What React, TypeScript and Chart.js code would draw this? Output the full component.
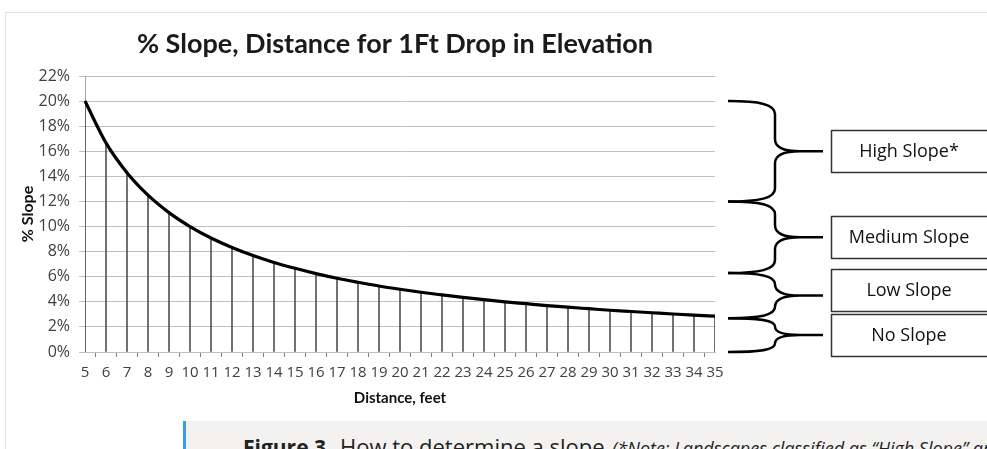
import React, { useEffect, useRef } from "react";
import { Chart, registerables } from "chart.js";

Chart.register(...registerables);

const chartTitle = "% Slope, Distance for 1Ft Drop in Elevation";
const xTitle = "Distance, feet";
const yTitle = "% Slope";

const distances = [
  "5", "6", "7", "8", "9", "10", "11", "12", "13", "14", "15", "16", "17", "18", "19", "20",
  "21", "22", "23", "24", "25", "26", "27", "28", "29", "30", "31", "32", "33", "34", "35",
];

const slopePercent = [
  20, 16.67, 14.29, 12.5, 11.11, 10, 9.09, 8.33, 7.69, 7.14, 6.67, 6.25, 5.88, 5.56, 5.26, 5,
  4.76, 4.55, 4.35, 4.17, 4, 3.85, 3.7, 3.57, 3.45, 3.33, 3.23, 3.13, 3.03, 2.94, 2.86,
];

const yMin = 0;
const yMax = 22;
const yStep = 2;

const bandLabels = ["High Slope*", "Medium Slope", "Low Slope", "No Slope"];
const bandTop = [20, 12, 6.3, 2.7];
const bandBottom = [12, 6.3, 2.7, 0];

const boxOffsets = [0, 0, -6, 0];

const titleShiftPlugin = {
  id: "titleShift",
  afterLayout(chart: any) {
    const tb = chart.titleBlock;
    if (tb) {
      tb.left -= 5;
      tb.right -= 5;
    }
  },
};

const bracePlugin = {
  id: "slopeBraces",
  afterDraw(chart: any) {
    const { ctx, chartArea } = chart;
    const ys = chart.scales.y;
    const r0 = chartArea.right;
    const xL = r0 + 13;
    const xV = r0 + 60;
    const xTip = r0 + 108;
    const boxL = r0 + 116;
    const boxH = 42;
    ctx.save();
    bandLabels.forEach((label, i) => {
      const y1 = ys.getPixelForValue(bandTop[i]);
      const y2 = ys.getPixelForValue(bandBottom[i]);
      const ym = (y1 + y2) / 2;
      const h = (y2 - y1) / 2;
      const rt = Math.min(13, h * 0.5);
      const rm = Math.min(12, h * 0.5);
      ctx.beginPath();
      ctx.moveTo(xL, y1);
      ctx.bezierCurveTo(xL + 32, y1, xV, y1 + rt * 0.25, xV, y1 + rt);
      ctx.lineTo(xV, ym - rm);
      ctx.bezierCurveTo(xV, ym - rm * 0.25, xV + 10, ym, xV + 25, ym);
      ctx.lineTo(xTip, ym);
      ctx.moveTo(xV + 25, ym);
      ctx.bezierCurveTo(xV + 10, ym, xV, ym + rm * 0.25, xV, ym + rm);
      ctx.lineTo(xV, y2 - rt);
      ctx.bezierCurveTo(xV, y2 - rt * 0.25, xL + 32, y2, xL, y2);
      ctx.lineWidth = 2.5;
      ctx.strokeStyle = "#000";
      ctx.lineJoin = "round";
      ctx.stroke();

      const by = Math.round(ym + boxOffsets[i] - boxH / 2) + 0.5;
      ctx.fillStyle = "#fff";
      ctx.fillRect(boxL + 0.5, by, 220, boxH);
      ctx.lineWidth = 1.5;
      ctx.strokeStyle = "#333";
      ctx.strokeRect(boxL + 0.5, by, 220, boxH);
      ctx.fillStyle = "#111";
      ctx.font = "18px 'Open Sans'";
      ctx.textAlign = "center";
      ctx.textBaseline = "middle";
      ctx.fillText(label, boxL + 78, by + boxH / 2);
    });
    ctx.restore();
  },
};

export default function App() {
  const canvasRef = useRef<HTMLCanvasElement | null>(null);

  useEffect(() => {
    if (!canvasRef.current) return;
    const chart = new Chart(canvasRef.current, {
      type: "line",
      data: {
        labels: distances,
        datasets: [
          {
            type: "line",
            label: "% Slope",
            data: slopePercent,
            borderColor: "#000",
            borderWidth: 3.2,
            pointRadius: 0,
            tension: 0.4,
            cubicInterpolationMode: "monotone",
            fill: false,
            order: 1,
          } as any,
          {
            type: "bar",
            label: "Drop lines",
            data: slopePercent,
            backgroundColor: "#555",
            barThickness: 1,
            order: 2,
          } as any,
        ],
      },
      options: {
        responsive: false,
        animation: false,
        devicePixelRatio: 1,
        layout: { padding: { left: 18, right: 272, top: 0, bottom: 37 } },
        plugins: {
          legend: { display: false },
          tooltip: { enabled: false },
          title: {
            display: true,
            text: chartTitle,
            fullSize: false,
            color: "#1a1a1a",
            font: { family: "Lato", size: 27, weight: "bold" },
            padding: { top: 28, bottom: 15.6 },
          },
        },
        scales: {
          x: {
            type: "category",
            offset: false,
            grid: {
              display: true,
              drawOnChartArea: false,
              drawTicks: true,
              tickLength: 5,
              color: "#808080",
            },
            border: { display: true, color: "#bfbfbf" },
            ticks: {
              autoSkip: false,
              maxRotation: 0,
              minRotation: 0,
              padding: 7,
              color: "#404040",
              font: { family: "'Open Sans'", size: 15 },
            },
            title: {
              display: true,
              text: xTitle,
              color: "#111",
              font: { family: "Lato", size: 15, weight: "bold" },
              padding: { top: 0, bottom: 5 },
            },
            afterFit(s: any) {
              s.height = 60;
            },
          },
          y: {
            min: yMin,
            max: yMax,
            ticks: {
              stepSize: yStep,
              padding: 9,
              color: "#404040",
              font: { family: "'Open Sans'", size: 16 },
              callback: (v: any) => v + "%",
            },
            grid: { color: "#c0c0c0", tickLength: 6 },
            border: { display: true, color: "#a6a6a6" },
            title: {
              display: true,
              text: yTitle,
              color: "#111",
              font: { family: "Lato", size: 16, weight: "bold" },
              padding: { top: 0, bottom: 0 },
            },
            afterFit(s: any) {
              s.width = 67;
            },
          },
        },
      } as any,
      plugins: [titleShiftPlugin, bracePlugin],
    });
    return () => chart.destroy();
  }, []);

  return (
    <div
      style={{
        position: "fixed",
        left: 0,
        top: 0,
        width: 987,
        height: 449,
        overflow: "hidden",
        background: "#fff",
      }}
    >
      <div
        style={{
          position: "absolute",
          left: 5,
          top: 12,
          width: 1000,
          height: 500,
          borderTop: "1px solid #e3e3e3",
          borderLeft: "1px solid #e3e3e3",
        }}
      />
      <canvas
        ref={canvasRef}
        width={987}
        height={449}
        style={{ position: "absolute", left: 0, top: 0, width: 987, height: 449 }}
      />
      <div
        style={{
          position: "absolute",
          left: 183,
          top: 421,
          width: 820,
          height: 60,
          background: "#f3f2f1",
          borderLeft: "3px solid #3a9ee8",
          boxSizing: "border-box",
          zIndex: 2,
        }}
      >
        <div
          style={{
            position: "absolute",
            left: 57,
            top: 11,
            whiteSpace: "nowrap",
            fontFamily: "'Open Sans'",
            fontSize: 21,
            lineHeight: "29px",
            color: "#222",
          }}
        >
          <b>Figure 3.</b>
          <span style={{ marginLeft: 8, fontSize: 22 }}>How to determine a slope.</span>
          <i style={{ fontSize: 18, marginLeft: 2 }}>
            (*Note: Landscapes classified as “High Slope” are not suitable for this practice.)
          </i>
        </div>
      </div>
    </div>
  );
}
